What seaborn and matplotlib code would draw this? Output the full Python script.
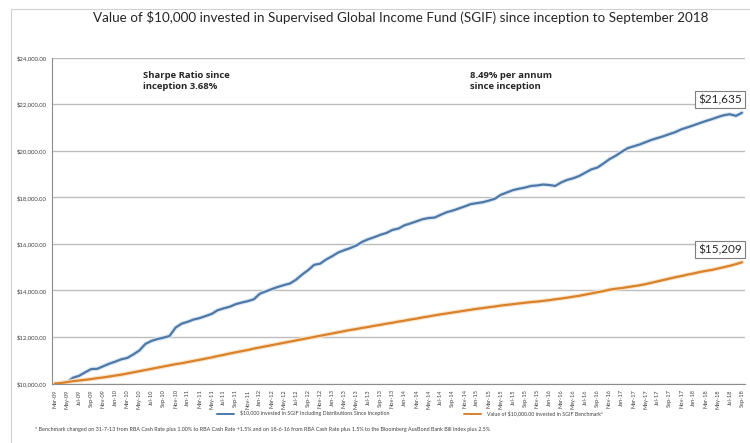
import numpy as np
import pandas as pd
import matplotlib
matplotlib.use('Agg')
import matplotlib.pyplot as plt
import matplotlib.patheffects as pe
from matplotlib.patches import Rectangle
from matplotlib.lines import Line2D
import seaborn as sns

# ---- data ----
months = list(pd.date_range('2009-03-01', periods=115, freq='MS').strftime('%b-%y'))

sgif = [10000, 10010, 10060, 10250, 10330, 10480, 10620, 10630, 10740, 10850,
        10940, 11040, 11100, 11250, 11420, 11700, 11830, 11910, 11970, 12040,
        12400, 12570, 12650, 12750, 12810, 12900, 12990, 13150, 13230, 13300,
        13410, 13480, 13540, 13620, 13860, 13960, 14060, 14150, 14230, 14300,
        14460, 14680, 14870, 15100, 15150, 15330, 15470, 15630, 15730, 15820,
        15930, 16090, 16200, 16290, 16390, 16470, 16600, 16660, 16800, 16880,
        16970, 17060, 17110, 17130, 17250, 17360, 17430, 17520, 17610, 17710,
        17750, 17790, 17860, 17940, 18110, 18210, 18310, 18370, 18420, 18490,
        18510, 18550, 18530, 18490, 18640, 18750, 18820, 18920, 19060, 19200,
        19280, 19450, 19640, 19780, 19950, 20110, 20190, 20270, 20370, 20470,
        20550, 20630, 20720, 20810, 20930, 21010, 21100, 21190, 21280, 21360,
        21450, 21530, 21570, 21500, 21635]

bench = [10000, 10020, 10060, 10100, 10130, 10160, 10190, 10230, 10260, 10300,
         10340, 10380, 10430, 10480, 10530, 10580, 10630, 10680, 10730, 10780,
         10830, 10870, 10920, 10970, 11020, 11070, 11120, 11180, 11230, 11290,
         11340, 11390, 11440, 11500, 11550, 11600, 11650, 11700, 11750, 11800,
         11850, 11900, 11950, 12000, 12050, 12100, 12150, 12200, 12250, 12300,
         12340, 12390, 12430, 12480, 12520, 12570, 12610, 12660, 12700, 12750,
         12790, 12840, 12880, 12930, 12970, 13010, 13050, 13090, 13130, 13170,
         13210, 13240, 13280, 13310, 13350, 13380, 13410, 13440, 13470, 13500,
         13520, 13550, 13580, 13620, 13650, 13690, 13730, 13770, 13820, 13870,
         13920, 13970, 14030, 14070, 14100, 14140, 14180, 14220, 14270, 14330,
         14390, 14450, 14510, 14570, 14620, 14680, 14730, 14790, 14840, 14880,
         14940, 15000, 15060, 15130, 15209]

series_names = ["$10,000 invested in SGIF Including Distributions Since Inception",
                "Value of $10,000.00 invested in SGIF Benchmark*"]
y_ticks = [10000, 12000, 14000, 16000, 18000, 20000, 22000, 24000]

title = "Value of $10,000 invested in Supervised Global Income Fund (SGIF) since inception to September 2018"
note_left = "Sharpe Ratio since\ninception 3.68%"
note_right = "8.49% per annum\nsince inception"
footnote = ("* Benchmark changed on 31-7-13 from RBA Cash Rate plus 1.00% to RBA Cash Rate +1.5% and on "
            "18-6-16 from RBA Cash Rate plus 1.5% to the Bloomberg AusBond Bank Bill Index plus 2.5%")

# ---- style ----
sns.set_style('white')
plt.rcParams['font.family'] = ['Lato', 'DejaVu Sans']

BLUE = '#4E78A6'
ORANGE = '#D9822B'
W, H = 750, 443

fig = plt.figure(figsize=(W / 100, H / 100), dpi=100)

def fx(x):
    return x / W

def fy(y):
    return 1 - y / H

ax = fig.add_axes([fx(52), fy(383.5), (745 - 52) / W, (383.5 - 57.7) / H])

df = pd.DataFrame({'idx': np.arange(len(months)), 'sgif': sgif, 'bench': bench})
sns.lineplot(data=df, x='idx', y='sgif', ax=ax, color=BLUE, lw=1.6, legend=False,
             path_effects=[pe.Stroke(linewidth=3.2, foreground='#DCE8F5'), pe.Normal()])
sns.lineplot(data=df, x='idx', y='bench', ax=ax, color=ORANGE, lw=1.6, legend=False,
             path_effects=[pe.Stroke(linewidth=3.2, foreground='#FBE3C8'), pe.Normal()])

ax.set_xlim(-0.5, len(months) - 0.5)
ax.set_ylim(y_ticks[0], y_ticks[-1])
ax.set_xlabel('')
ax.set_ylabel('')

ax.set_xticks(np.arange(0, len(months), 2))
ax.set_xticklabels(months[::2], rotation=90, fontsize=4.1, color='#404040')
ax.set_yticks(y_ticks)
ax.set_yticklabels(['${:,.2f}'.format(v) for v in y_ticks], fontsize=4.3, color='#404040')
ax.tick_params(axis='x', direction='out', length=3, width=0.7, color='#808080', pad=1.2)
ax.tick_params(axis='y', length=0, pad=4)

ax.yaxis.grid(True, color='#BDBDBD', lw=1.0)
ax.xaxis.grid(False)
for s in ['top', 'right']:
    ax.spines[s].set_visible(False)
for s in ['left', 'bottom']:
    ax.spines[s].set_color('#8C8C8C')
    ax.spines[s].set_linewidth(0.8)

# legend at the bottom
handles = [Line2D([], [], color=BLUE, lw=1.4), Line2D([], [], color=ORANGE, lw=1.4)]
fig.legend(handles, series_names, loc='center', bbox_to_anchor=(fx(410), fy(413.5)), ncol=2,
           frameon=False, fontsize=3.8, handlelength=3.2, columnspacing=14,
           handletextpad=1.2, labelcolor='#404040', borderpad=0.1)

# outer frame
fig.patches.append(Rectangle((fx(11), fy(445)), fx(745), (445 - 9) / H,
                             transform=fig.transFigure, fill=False,
                             edgecolor='#D0D0D0', lw=0.8))

# texts
fig.text(fx(401), fy(18), title, ha='center', va='center', fontsize=9.7, color='#262626')
fig.text(fx(143), fy(81), note_left, ha='left', va='center', fontsize=6.8,
         fontweight='bold', family=['Open Sans', 'DejaVu Sans'], color='#262626', linespacing=1.2)
fig.text(fx(470), fy(81), note_right, ha='left', va='center', fontsize=6.8,
         fontweight='bold', family=['Open Sans', 'DejaVu Sans'], color='#262626', linespacing=1.2)
fig.text(fx(35), fy(429), footnote, ha='left', va='center', fontsize=3.9, color='#404040')

box = dict(boxstyle='square,pad=0.25', facecolor='white', edgecolor='#7F7F7F', lw=0.8)
ax.annotate('${:,.0f}'.format(sgif[-1]), xy=(fx(720), fy(99.5)), xycoords='figure fraction',
            ha='center', va='center', fontsize=8.5, color='#262626', bbox=box)
ax.annotate('${:,.0f}'.format(bench[-1]), xy=(fx(720), fy(249.5)), xycoords='figure fraction',
            ha='center', va='center', fontsize=8.5, color='#262626', bbox=box)

fig.savefig('out.png', dpi=100)
